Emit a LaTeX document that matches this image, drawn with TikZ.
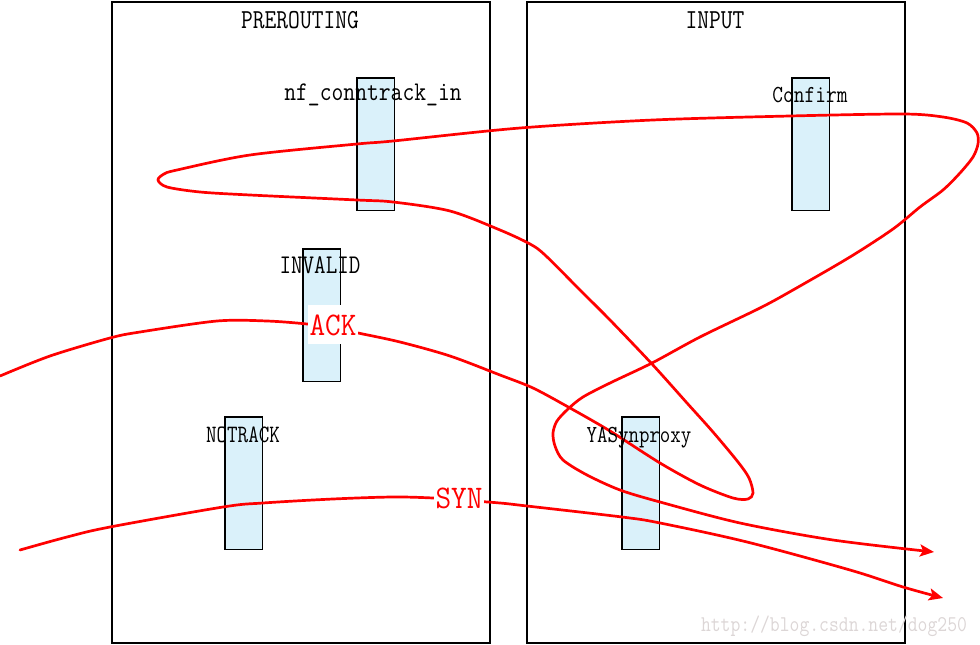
\documentclass[tikz,border=0pt]{standalone}
\usepackage{fontspec}
\usetikzlibrary{arrows.meta}
\definecolor{boxfill}{RGB}{218,241,250}
\definecolor{wmgray}{RGB}{220,214,214}
\newcommand\tx[3]{{\fontsize{#1}{#1}\selectfont\ttfamily\scalebox{#2}[1]{#3}}}
\begin{document}
\begin{tikzpicture}[x=1pt,y=-1pt,
  chainbox/.style={draw=black, line width=1.6pt, inner sep=0pt, anchor=north west, minimum width=378pt, minimum height=641pt},
  hookbox/.style={draw=black, fill=boxfill, line width=1.5pt, inner sep=0pt, anchor=north west, minimum width=37.5pt, minimum height=132.5pt},
  lbl/.style={inner sep=0pt, anchor=base, text=black},
  flow/.style={draw=red, line width=2.7pt, line join=round, line cap=round, -{Stealth[length=14pt,width=12pt,inset=3pt]}},
  flag/.style={fill=white, text=red, inner xsep=1.5pt, inner ysep=9pt, anchor=base},
  wm/.style={inner sep=0pt, anchor=base, text=wmgray}]
\useasboundingbox (0,0) rectangle (980,645);
% chains
\node[chainbox] (pre) at (111,1) {};
\node[chainbox] (inp) at (526,1) {};
\node[lbl] (pret) at (300,28) {\tx{27.5}{0.83}{PREROUTING}};
\node[lbl] (inpt) at (715,28) {\tx{27.5}{0.83}{INPUT}};
% hooks
\node[hookbox] (nfc) at (356,77) {};
\node[hookbox] (conf) at (791,77) {};
\node[hookbox] (inv) at (302,248) {};
\node[hookbox] (notr) at (224,416) {};
\node[hookbox] (yas) at (621,416) {};
% flows
\coordinate (synin) at (20,550);
\coordinate (synout) at (943,598);
\coordinate (ackin) at (0,376);
\coordinate (ackout) at (934,552);
\draw[flow] plot[smooth, tension=0.55] coordinates {(synin) (67,537) (110,527) (223,507) (263,503) (333,499) (393,497) (433,498) (460,500) (500,503) (527,506) (622,517) (660,523) (747,542) (850,570) (903,587) (synout)};
\draw[flow] plot[smooth, tension=0.5] coordinates {(ackin) (50,356) (110,338) (140,332) (217,321) (267,321) (307,324) (333,328) (358,333) (400,342) (450,356) (500,375) (533,388) (570,408) (610,431) (660,463) (700,485) (733,498) (748,499) (753,493) (749,478) (738,462) (713,432) (687,403) (652,364) (610,320) (580,290) (545,255) (530,244) (500,230) (450,211) (393,202) (357,200) (250,195) (200,192) (167,187) (158,180) (164,174) (177,170) (250,155) (357,144) (393,141) (520,128) (653,120) (790,116) (903,114) (943,117) (967,123) (977,133) (978,144) (973,157) (960,173) (943,190) (920,207) (893,229) (850,257) (793,290) (760,308) (700,337) (652,363) (610,383) (583,397) (568,409) (557,421) (553,433) (555,446) (563,460) (587,475) (620,490) (660,502) (740,523) (833,540) (ackout)};
% hook labels
\node[lbl] (nfct) at (373,100) {\tx{27}{0.85}{nf\_conntrack\_in}};
\node[lbl] (conft) at (810,102) {\tx{24.5}{0.85}{Confirm}};
\node[lbl] (invt) at (320,273) {\tx{27}{0.83}{INVALID}};
\node[lbl] (notrt) at (243,442) {\tx{25}{0.82}{NOTRACK}};
\node[lbl] (yast) at (639,442) {\tx{24.5}{0.83}{YASynproxy}};
% flags
\node[flag] (ack) at (333,335) {\tx{33}{0.92}{ACK}};
\node[flag] (syn) at (459,508) {\tx{33}{0.92}{SYN}};
% watermark
\node[wm] (mark) at (834,631) {\tx{22.5}{0.85}{http://blog.csdn.net/dog250}};
\end{tikzpicture}
\end{document}
